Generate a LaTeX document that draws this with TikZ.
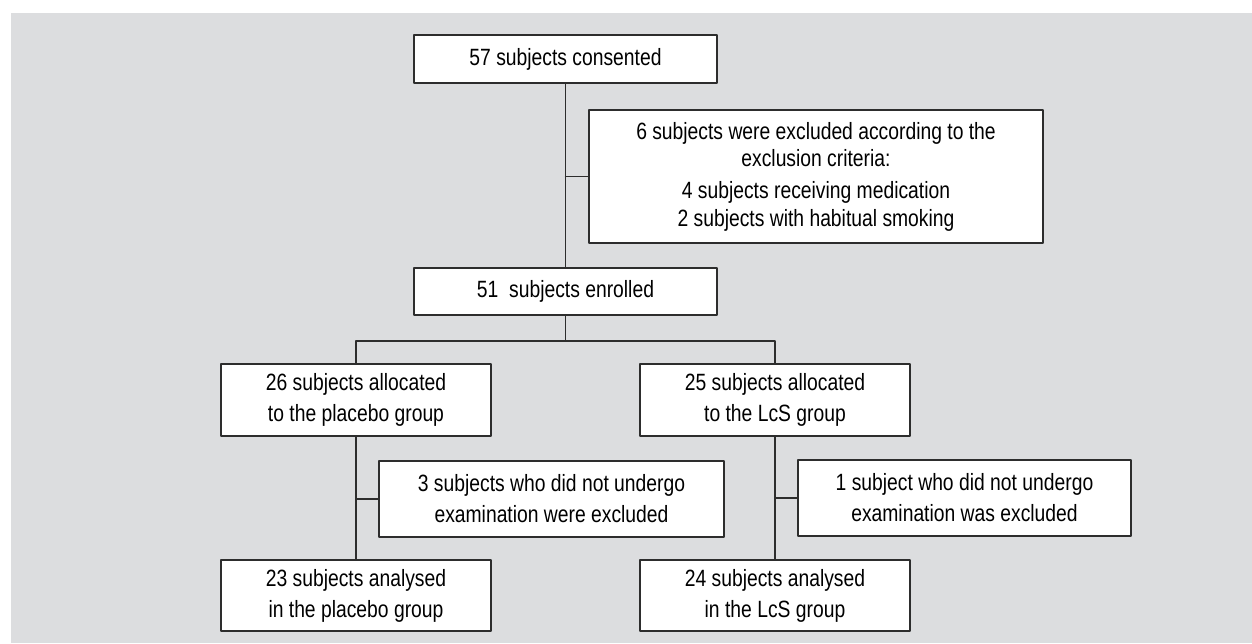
\documentclass[tikz,border=0pt]{standalone}
\usepackage{fontspec}
\setmainfont{Liberation Sans}[FakeStretch=0.82]
\usepackage{tikz}
\definecolor{panelgray}{RGB}{220,221,223}
\definecolor{inkgray}{RGB}{45,45,45}

\begin{document}
\begin{tikzpicture}[line cap=round,line join=round,x=0.02cm,y=-0.02cm,
  box/.style={draw=inkgray,line width=0.8pt,fill=white,inner sep=0pt,outer sep=0pt,
    align=center,text=black,font=\fontsize{13.4}{17.6}\selectfont},
  link/.style={draw=inkgray,line width=0.8pt}]
\useasboundingbox (0,0) rectangle (1252,643);
\fill[panelgray] (11,13) rectangle (1252,643);
% top part
\node[box,minimum width=6.06cm,minimum height=0.96cm] (consent) at (565.5,59) {57 subjects consented};
\node[box,minimum width=9.08cm,minimum height=2.66cm,font=\fontsize{13.4}{15.5}\selectfont] (excl) at (816,176.5)
  {6 subjects were excluded according to the\\ exclusion criteria:\\[3pt] 4 subjects receiving medication\\ 2 subjects with habitual smoking};
\node[box,minimum width=6.06cm,minimum height=0.94cm] (enrol) at (565.5,291.5) {51\ \ subjects enrolled};
\coordinate (split) at (565.5,341);
% the two groups
\node[box,minimum width=5.4cm,minimum height=1.44cm] (alloP) at (356,400) {26 subjects allocated\\ to the placebo group};
\node[box,minimum width=5.4cm,minimum height=1.44cm] (alloL) at (775,400) {25 subjects allocated\\ to the LcS group};
\node[box,minimum width=6.9cm,minimum height=1.52cm] (exP) at (551.5,499) {3 subjects who did not undergo\\ examination were excluded};
\node[box,minimum width=6.66cm,minimum height=1.52cm] (exL) at (964.5,498) {1 subject who did not undergo\\ examination was excluded};
\node[box,minimum width=5.4cm,minimum height=1.42cm] (anaP) at (356,595.5) {23 subjects analysed\\ in the placebo group};
\node[box,minimum width=5.4cm,minimum height=1.42cm] (anaL) at (775,595.5) {24 subjects analysed\\ in the LcS group};
% connectors
\draw[link] (consent.south) -- (enrol.north);
\draw[link] (consent.south |- excl.west) -- (excl.west);
\draw[link] (enrol.south) -- (split);
\draw[link] (alloP.north) |- (split) -| (alloL.north);
\draw[link] (alloP.south) -- (anaP.north);
\draw[link] (alloP.south |- exP.west) -- (exP.west);
\draw[link] (alloL.south) -- (anaL.north);
\draw[link] (alloL.south |- exL.west) -- (exL.west);
\end{tikzpicture}
\end{document}
